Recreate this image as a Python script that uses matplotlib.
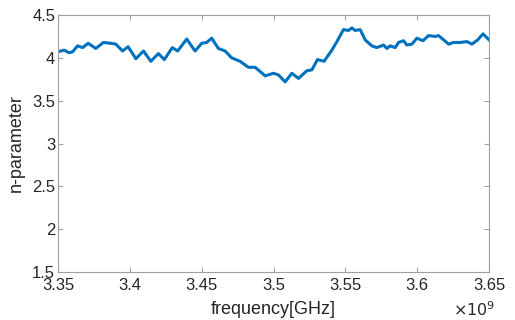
import numpy as np
import matplotlib
matplotlib.use('Agg')
import matplotlib.pyplot as plt
from matplotlib.ticker import FuncFormatter

plt.rcParams['font.family'] = ['Liberation Sans', 'DejaVu Sans']

# frequency in GHz, n-parameter values
freq_ghz = [3.3496, 3.3542, 3.3577, 3.3601, 3.3636, 3.3671, 3.3710, 3.3763, 3.3816, 3.3868,
            3.3903, 3.3949, 3.3988, 3.4042, 3.4095, 3.4146, 3.4199, 3.4240, 3.4296, 3.4333,
            3.4396, 3.4454, 3.4500, 3.4535, 3.4570, 3.4616, 3.4663, 3.4709, 3.4767, 3.4825,
            3.4872, 3.4942, 3.5000, 3.5035, 3.5081, 3.5128, 3.5174, 3.5232, 3.5267, 3.5306,
            3.5352, 3.5406, 3.5441, 3.5487, 3.5522, 3.5545, 3.5568, 3.5603, 3.5638, 3.5684,
            3.5719, 3.5766, 3.5789, 3.5812, 3.5847, 3.5870, 3.5905, 3.5928, 3.5963, 3.5998,
            3.6040, 3.6079, 3.6126, 3.6149, 3.6184, 3.6219, 3.6253, 3.6300, 3.6346, 3.6381,
            3.6421, 3.6458, 3.6500]
n_param = [4.07, 4.09, 4.06, 4.07, 4.14, 4.12, 4.17, 4.11, 4.18, 4.17,
           4.16, 4.08, 4.13, 3.99, 4.08, 3.96, 4.05, 3.98, 4.12, 4.08,
           4.22, 4.08, 4.17, 4.18, 4.23, 4.11, 4.08, 4.00, 3.96, 3.89,
           3.89, 3.79, 3.82, 3.80, 3.72, 3.82, 3.76, 3.85, 3.86, 3.98,
           3.96, 4.09, 4.19, 4.33, 4.32, 4.35, 4.32, 4.33, 4.21, 4.14,
           4.12, 4.15, 4.11, 4.14, 4.12, 4.18, 4.20, 4.15, 4.16, 4.23,
           4.20, 4.26, 4.25, 4.26, 4.21, 4.16, 4.18, 4.18, 4.19, 4.16,
           4.21, 4.28, 4.21]

x_ticks = [3.35, 3.40, 3.45, 3.50, 3.55, 3.60, 3.65]
y_ticks = [1.5, 2, 2.5, 3, 3.5, 4, 4.5]

freq = np.array(freq_ghz) * 1e9

fig = plt.figure(figsize=(5.15, 3.2), dpi=100)
ax = fig.add_axes([0.1126, 0.15, 0.837, 0.803])
ax.plot(freq, n_param, color='#0072BD', linewidth=2.2)

ax.set_xlim(3.35e9, 3.65e9)
ax.set_ylim(1.5, 4.5)
ax.set_xticks([t * 1e9 for t in x_ticks])
ax.set_yticks(y_ticks)
ax.xaxis.set_major_formatter(FuncFormatter(lambda v, p: '%g' % round(v / 1e9, 4)))
ax.yaxis.set_major_formatter(FuncFormatter(lambda v, p: '%g' % v))

for s in ax.spines.values():
    s.set_color('#a0a0a0')
    s.set_linewidth(0.8)
ax.tick_params(direction='in', length=3.5, width=0.8, color='#a0a0a0',
               labelcolor='#262626', labelsize=12, top=True, right=True, pad=2)
ax.tick_params(axis='x', pad=4)

ax.set_xlabel('frequency[GHz]', fontsize=13, color='#262626', labelpad=6)
ax.set_ylabel('n-parameter', fontsize=13, color='#262626', labelpad=5)
ax.text(0.965, -0.112, r'$\times10^{9}$', transform=ax.transAxes, ha='center', va='top',
        fontsize=11.5, color='#262626')

fig.savefig('out.png', dpi=100)
